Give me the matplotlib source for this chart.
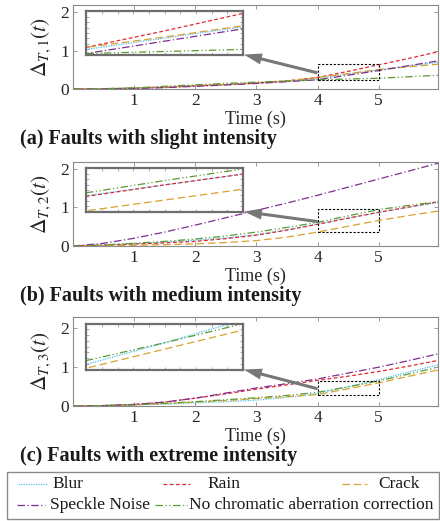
import matplotlib
matplotlib.use("Agg")
import matplotlib.pyplot as plt
from matplotlib.lines import Line2D
from matplotlib.patches import Rectangle
import numpy as np

plt.rcParams.update(
    {
        "font.family": ["Liberation Serif", "DejaVu Serif"],
        "mathtext.fontset": "stix",
        "axes.edgecolor": "#8a8a8a",
        "axes.linewidth": 0.8,
        "xtick.direction": "in",
        "ytick.direction": "in",
        "xtick.color": "#8a8a8a",
        "ytick.color": "#8a8a8a",
        "xtick.labelcolor": "#262626",
        "ytick.labelcolor": "#262626",
        "xtick.top": True,
        "ytick.right": True,
    }
)

# ---- data ----
time = [0, 0.5, 1, 1.5, 2, 2.5, 3, 3.5, 4, 4.5, 5, 5.5, 6]

blur_slight = [0, 0.005, 0.02, 0.045, 0.08, 0.115, 0.155, 0.20, 0.28, 0.39, 0.50, 0.60, 0.70]
rain_slight = [0, 0.005, 0.02, 0.045, 0.08, 0.115, 0.155, 0.21, 0.30, 0.46, 0.63, 0.80, 0.98]
crack_slight = [0, 0.006, 0.025, 0.05, 0.085, 0.12, 0.16, 0.21, 0.30, 0.40, 0.51, 0.58, 0.65]
speckle_slight = [0, 0.003, 0.015, 0.035, 0.07, 0.105, 0.145, 0.19, 0.24, 0.36, 0.48, 0.61, 0.74]
nocorr_slight = [0, 0.01, 0.03, 0.07, 0.11, 0.145, 0.18, 0.21, 0.24, 0.26, 0.28, 0.32, 0.36]

blur_medium = [0, 0.025, 0.06, 0.10, 0.15, 0.21, 0.29, 0.42, 0.57, 0.72, 0.87, 1.00, 1.13]
rain_medium = [0, 0.02, 0.05, 0.08, 0.12, 0.19, 0.28, 0.41, 0.56, 0.72, 0.87, 1.01, 1.15]
crack_medium = [0, 0.01, 0.02, 0.035, 0.055, 0.09, 0.14, 0.23, 0.36, 0.51, 0.66, 0.79, 0.91]
speckle_medium = [0, 0.07, 0.20, 0.36, 0.54, 0.73, 0.92, 1.11, 1.31, 1.52, 1.73, 1.94, 2.15]
nocorr_medium = [0, 0.03, 0.07, 0.12, 0.18, 0.26, 0.36, 0.48, 0.61, 0.78, 0.94, 1.05, 1.15]

blur_extreme = [0, 0.01, 0.03, 0.05, 0.08, 0.11, 0.15, 0.22, 0.32, 0.49, 0.67, 0.87, 1.06]
rain_extreme = [0, 0.01, 0.04, 0.10, 0.20, 0.31, 0.43, 0.54, 0.655, 0.76, 0.88, 1.02, 1.17]
crack_extreme = [0, 0.01, 0.03, 0.06, 0.10, 0.14, 0.19, 0.24, 0.29, 0.44, 0.59, 0.76, 0.93]
speckle_extreme = [0, 0.01, 0.04, 0.10, 0.20, 0.33, 0.46, 0.57, 0.69, 0.84, 0.99, 1.16, 1.34]
nocorr_extreme = [0, 0.01, 0.03, 0.07, 0.11, 0.16, 0.21, 0.27, 0.35, 0.49, 0.64, 0.82, 1.00]

# zoomed windows (t0, t1, y0, y1)
zoom_slight = (4, 5, 0.23, 0.65)
zoom_medium = (4, 5, 0.35, 0.95)
zoom_extreme = (4, 5, 0.28, 0.64)

names = ["Blur", "Rain", "Crack", "Speckle Noise", "No chromatic aberration correction"]
colors = ["#4dbeee", "#e3262e", "#d9a12e", "#7e2f8e", "#5b9b35"]
styles = [(0, (1, 1)), (0, (3, 2)), (0, (6, 3)), (0, (6, 2, 1, 2)), (0, (6, 2, 1, 2, 1, 2))]

panels = [
    dict(series=[blur_slight, rain_slight, crack_slight, speckle_slight, nocorr_slight],
         zoom=zoom_slight, label=r"$\Delta_{T,1}(t)$",
         title="(a) Faults with slight intensity", ymax=2.19, box=(5, 89)),
    dict(series=[blur_medium, rain_medium, crack_medium, speckle_medium, nocorr_medium],
         zoom=zoom_medium, label=r"$\Delta_{T,2}(t)$",
         title="(b) Faults with medium intensity", ymax=2.17, box=(162, 246)),
    dict(series=[blur_extreme, rain_extreme, crack_extreme, speckle_extreme, nocorr_extreme],
         zoom=zoom_extreme, label=r"$\Delta_{T,3}(t)$",
         title="(c) Faults with extreme intensity", ymax=2.27, box=(317, 406)),
]

W, H = 440, 521
fig = plt.figure(figsize=(W / 100, H / 100), dpi=100)

for p in panels:
    top, bot = p["box"]
    ax = fig.add_axes([73 / W, 1 - bot / H, 365 / W, (bot - top) / H])
    for ys, c, ls in zip(p["series"], colors, styles):
        ax.plot(time, ys, color=c, linestyle=ls, linewidth=0.9)
    ax.set_xlim(0, 5.97)
    ax.set_ylim(0, p["ymax"])
    ax.set_xticks([1, 2, 3, 4, 5])
    ax.set_yticks([0, 1, 2])
    ax.tick_params(labelsize=12.5, length=3, width=0.6, pad=3)
    ax.set_xlabel("Time (s)", fontsize=13, labelpad=1, color="#262626")
    ax.set_ylabel(p["label"], fontsize=15.5, labelpad=5, color="#262626")

    t0, t1, y0, y1 = p["zoom"]
    ax.add_patch(Rectangle((t0, y0), t1 - t0, y1 - y0, fill=False,
                           edgecolor="black", linestyle=(0, (2, 1.5)), linewidth=0.8, zorder=5))

    ins = ax.inset_axes([0.036, 0.41, 0.43, 0.515])
    for ys, c, ls in zip(p["series"], colors, styles):
        ins.plot(time, ys, color=c, linestyle=ls, linewidth=0.9)
    ins.set_xlim(t0, t1)
    ins.set_ylim(y0, y1)
    ins.set_xticks(np.arange(t0 + 0.1, t1, 0.1))
    ins.set_yticks(np.linspace(y0, y1, 9)[1:-1])
    ins.tick_params(labelbottom=False, labelleft=False, length=2, width=0.5, colors="#8a8a8a")
    for sp in ins.spines.values():
        sp.set_color("#6e6e6e")
        sp.set_linewidth(1.6)

    ax.annotate("", xy=(0.468, 0.41), xycoords="axes fraction",
                xytext=(t0, (y0 + y1) / 2 - 0.02), textcoords="data",
                arrowprops=dict(facecolor="#777777", edgecolor="none",
                                width=2.2, headwidth=8, headlength=13, shrink=0),
                zorder=6)

    fig.text(20 / W, 1 - (bot + 50) / H, p["title"], fontsize=14.5,
             fontweight="bold", ha="left", va="center", color="#1a1a1a")

# legend, drawn by hand so the two rows do not share column widths
fig.add_artist(Rectangle((7 / W, 1 - 519 / H), 432 / W, 47 / H, transform=fig.transFigure,
                         fill=False, edgecolor="#8a8a8a", linewidth=1.0))
entries = [
    (0, 18, 47, 52, 484),
    (1, 163, 190, 207, 484),
    (2, 342, 367, 378, 484),
    (3, 17, 45, 50, 505),
    (4, 155, 187, 189, 505),
]
for k, x0, x1, xt, yy in entries:
    fig.add_artist(Line2D([x0 / W, x1 / W], [1 - yy / H, 1 - yy / H], transform=fig.transFigure,
                          color=colors[k], linestyle=styles[k], linewidth=0.9))
    fig.text(xt / W, 1 - yy / H, names[k], fontsize=12.5, ha="left", va="center", color="#1a1a1a")

fig.savefig("out.png", dpi=100)
